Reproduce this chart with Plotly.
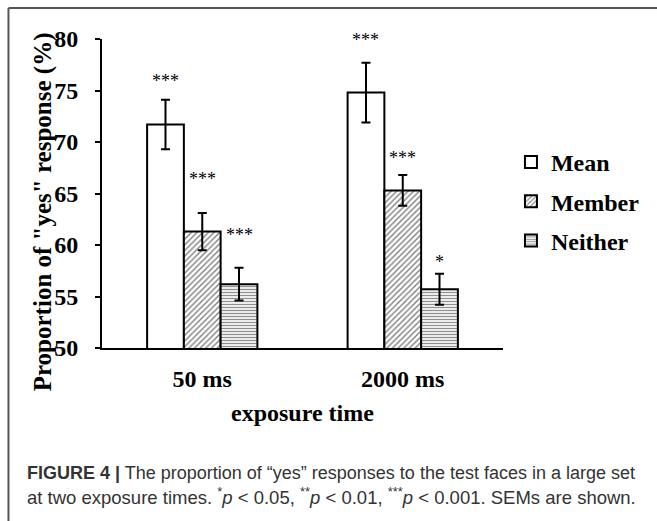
import plotly.graph_objects as go

# ---------------- data ----------------
categories = ["50 ms", "2000 ms"]
series_names = ["Mean", "Member", "Neither"]
mean_vals = [71.7, 74.8]
member_vals = [61.3, 65.3]
neither_vals = [56.2, 55.7]
mean_sem = [2.4, 2.9]
member_sem = [1.8, 1.5]
neither_sem = [1.6, 1.5]
mean_sig = ["***", "***"]
member_sig = ["***", "***"]
neither_sig = ["***", "*"]
mean_sig_y = [76.4, 80.4]
member_sig_y = [66.9, 68.9]
neither_sig_y = [61.5, 58.8]
y_ticks = [50, 55, 60, 65, 70, 75, 80]
y_range = [50, 80]

# ---------------- layout geometry ----------------
W, H = 657, 521
ML, MR, MT, MB = 102, 152, 39, 173
PW, PH = W - ML - MR, H - MT - MB


def px_x(p):
    return (p - ML) / PW


def px_y(p):
    return (H - MB - p) / PH


serif = "Liberation Serif, Times New Roman, serif"
sans = "Liberation Sans, Arial, Helvetica, sans-serif"

x_idx = list(range(len(categories)))
vals = [mean_vals, member_vals, neither_vals]
sems = [mean_sem, member_sem, neither_sem]
sigs = [mean_sig, member_sig, neither_sig]
sig_ys = [mean_sig_y, member_sig_y, neither_sig_y]
patterns = [
    dict(shape=""),
    dict(shape="/", fgcolor="black", bgcolor="white", size=4, solidity=0.35),
    dict(shape="-", fgcolor="#222", bgcolor="white", size=3, solidity=0.45),
]

fig = go.Figure()
for name, v, e, pat in zip(series_names, vals, sems, patterns):
    fig.add_trace(go.Bar(
        x=x_idx, y=v, name=name, legendgroup=name,
        marker=dict(color="white", line=dict(color="black", width=2), pattern=pat),
        error_y=dict(type="data", array=e, visible=True, color="black",
                     thickness=2, width=4.5),
    ))

n = len(series_names)
bar_w = (1 - 0.45) / n
annotations = []
for i, (sg, sy) in enumerate(zip(sigs, sig_ys)):
    for j in x_idx:
        annotations.append(dict(
            x=j + (i - (n - 1) / 2) * bar_w, xref="x",
            y=(sy[j] - y_range[0]) / (y_range[1] - y_range[0]), yref="paper",
            text=sg[j], showarrow=False, yanchor="middle", yshift=-5,
            font=dict(family=serif, size=18, color="black"),
        ))

# axis titles
annotations.append(dict(
    x=px_x(43), y=px_y(212), xref="paper", yref="paper",
    text="<b>Proportion of \"yes\" response (%)</b>", textangle=-90,
    showarrow=False, xanchor="center", yanchor="middle",
    font=dict(family=serif, size=25, color="black"),
))
annotations.append(dict(
    x=0.5, y=px_y(413), xref="paper", yref="paper",
    text="<b>exposure time</b>", showarrow=False,
    xanchor="center", yanchor="middle",
    font=dict(family=serif, size=24, color="black"),
))
# caption
annotations.append(dict(
    x=px_x(25), y=px_y(473), xref="paper", yref="paper", xanchor="left", yanchor="middle",
    text="<b>FIGURE 4 |</b> The proportion of \u201cyes\u201d responses to the test faces in a large set",
    showarrow=False, font=dict(family=sans, size=18, color="#333"),
))
annotations.append(dict(
    x=px_x(25), y=px_y(496), xref="paper", yref="paper", xanchor="left", yanchor="middle",
    text="at two exposure times. <sup>*</sup><i>p</i> &lt; 0.05, <sup>**</sup><i>p</i> &lt; 0.01, "
         "<sup>***</sup><i>p</i> &lt; 0.001. SEMs are shown.",
    showarrow=False, font=dict(family=sans, size=18.5, color="#333"),
))

shapes = [
    dict(type="line", xref="paper", yref="paper", x0=px_x(8), x1=px_x(W + 5),
         y0=px_y(8), y1=px_y(8), line=dict(color="#555", width=2)),
    dict(type="line", xref="paper", yref="paper", x0=px_x(8), x1=px_x(8),
         y0=px_y(8), y1=px_y(H + 5), line=dict(color="#555", width=2)),
]

fig.update_layout(
    width=W, height=H, margin=dict(l=ML, r=MR, t=MT, b=MB),
    paper_bgcolor="white", plot_bgcolor="white",
    barmode="group", bargap=0.45, bargroupgap=0,
    showlegend=True,
    legend=dict(x=px_x(513), y=px_y(140), xanchor="left", yanchor="top",
                font=dict(family=serif, size=24, color="black", weight="bold"),
                traceorder="grouped", tracegroupgap=5, bgcolor="rgba(0,0,0,0)",
                itemwidth=30),
    annotations=annotations, shapes=shapes,
    xaxis=dict(range=[-0.5, 1.5], tickvals=x_idx, ticktext=categories,
               showline=True, linecolor="black", linewidth=2, ticks="",
               showgrid=False, zeroline=False, ticklabelstandoff=8,
               tickfont=dict(family=serif, size=24, color="black", weight="bold")),
    yaxis=dict(range=y_range, tickvals=y_ticks, showline=True, linecolor="black",
               linewidth=2, ticks="outside", ticklen=5, tickwidth=2, tickcolor="black",
               showgrid=False, zeroline=False, ticklabelstandoff=12,
               tickfont=dict(family=serif, size=24, color="black", weight="bold")),
)

fig.write_html("out.html")
